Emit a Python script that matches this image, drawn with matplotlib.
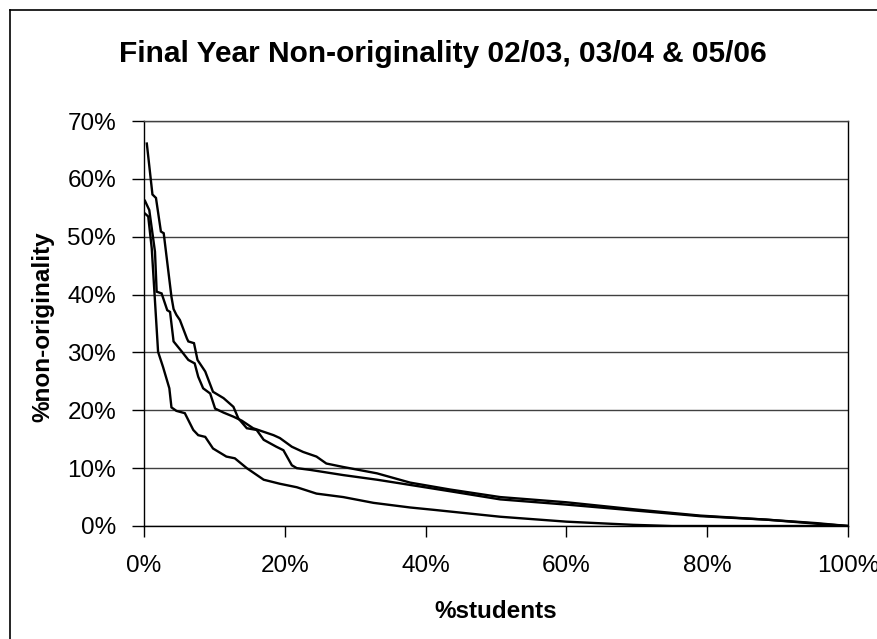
import matplotlib
matplotlib.use("Agg")
import matplotlib.pyplot as plt
from matplotlib.lines import Line2D
from matplotlib.ticker import PercentFormatter

plt.rcParams['font.family'] = ['Liberation Sans', 'DejaVu Sans']

# Three sorted non-originality curves (% students, % non-originality)
curve_a_x = [0.4, 1.2, 1.7, 2.4, 2.8, 3.9, 4.2, 4.6, 5.1, 6.1, 6.3, 7.1, 7.6, 8.7, 9.8,
             11.3, 12.7, 13.4, 14.6, 16.0, 17.0, 18.8, 19.8, 21.0, 21.7, 23.6, 28.3,
             33.1, 37.8, 43.5, 50.6, 60.0, 69.5, 79.0, 88.4, 95.5, 100.0]
curve_a_y = [66.1, 57.3, 56.7, 50.9, 50.6, 39.6, 37.5, 36.5, 35.6, 32.4, 31.9, 31.6, 28.7,
             26.7, 23.2, 22.1, 20.6, 18.6, 16.9, 16.6, 14.9, 13.7, 13.1, 10.5, 10.0, 9.7,
             8.8, 8.0, 7.1, 6.0, 4.6, 3.7, 2.7, 1.7, 1.1, 0.4, 0.0]

curve_b_x = [0.14, 0.75, 1.56, 1.8, 2.5, 3.3, 3.7, 4.2, 4.4, 5.4, 6.3, 7.2, 7.7, 8.4, 9.4,
             10.1, 11.3, 12.7, 13.9, 15.5, 18.4, 19.3, 21.0, 22.6, 24.5, 25.9, 28.3,
             33.1, 37.8, 43.5, 50.6, 60.0, 69.5, 79.0, 88.4, 95.5, 100.0]
curve_b_y = [56.2, 54.6, 47.4, 40.5, 40.2, 37.3, 37.0, 31.9, 31.6, 30.1, 28.7, 28.1, 25.8,
             23.8, 22.9, 20.3, 19.6, 18.9, 18.2, 16.9, 15.7, 15.2, 13.7, 12.8, 12.0, 10.8,
             10.2, 9.1, 7.5, 6.3, 5.0, 4.1, 2.9, 1.8, 1.1, 0.5, 0.0]

curve_c_x = [0.14, 0.6, 1.1, 2.0, 2.7, 3.6, 3.9, 4.6, 5.8, 7.0, 7.7, 8.7, 9.8, 11.7, 12.9,
             14.6, 17.0, 19.3, 21.7, 24.5, 28.3, 32.6, 37.8, 41.1, 50.6, 60.0, 69.5,
             75.0, 100.0]
curve_c_y = [54.0, 53.5, 48.0, 30.1, 27.5, 23.8, 20.5, 19.9, 19.5, 16.6, 15.7, 15.4, 13.4,
             12.0, 11.7, 10.0, 8.0, 7.3, 6.7, 5.6, 5.0, 4.0, 3.2, 2.8, 1.6, 0.75, 0.2,
             0.0, 0.0]

x_ticks = [0, 20, 40, 60, 80, 100]
y_ticks = [0, 10, 20, 30, 40, 50, 60, 70]

fig = plt.figure(figsize=(8.77, 6.39), dpi=100)
ax = fig.add_axes([144 / 877, 113 / 639, 704 / 877, 405 / 639])

for cx, cy in [(curve_a_x, curve_a_y), (curve_b_x, curve_b_y), (curve_c_x, curve_c_y)]:
    ax.plot(cx, cy, color='black', lw=1.7, solid_joinstyle='miter')

ax.set_xlim(0, 100)
ax.set_ylim(0, 70)
ax.set_xticks(x_ticks)
ax.set_yticks(y_ticks)
ax.xaxis.set_major_formatter(PercentFormatter(decimals=0))
ax.yaxis.set_major_formatter(PercentFormatter(decimals=0))
ax.tick_params(axis='x', direction='out', length=8, width=1, pad=13, labelsize=17.5)
ax.tick_params(axis='y', direction='out', length=9, width=1, pad=11, labelsize=17.5)
ax.yaxis.grid(True, color='#404040', lw=1)
ax.set_axisbelow(True)
for s in ax.spines.values():
    s.set_color('black')
    s.set_linewidth(1)
ax.spines['top'].set_color('#404040')

fig.text(0.505, 1 - 62 / 639, "Final Year Non-originality 02/03, 03/04 & 05/06",
         ha='center', va='baseline', fontsize=21.5, fontweight='bold')
fig.text(496 / 877, 1 - 618 / 639, "%students", ha='center', va='baseline',
         fontsize=17.5, fontweight='bold')
fig.text(43 / 877, 1 - 327 / 639, "%non-originality", ha='center', va='center',
         rotation=90, fontsize=17.5, fontweight='bold')

# chart border (only the top and left edges fall inside the picture)
fig.add_artist(Line2D([10 / 877, 10 / 877], [0, 1 - 10 / 639], color='black', lw=1.2,
                      transform=fig.transFigure))
fig.add_artist(Line2D([10 / 877, 1], [1 - 10 / 639, 1 - 10 / 639], color='black', lw=1.2,
                      transform=fig.transFigure))

fig.savefig("out.png", dpi=100)
